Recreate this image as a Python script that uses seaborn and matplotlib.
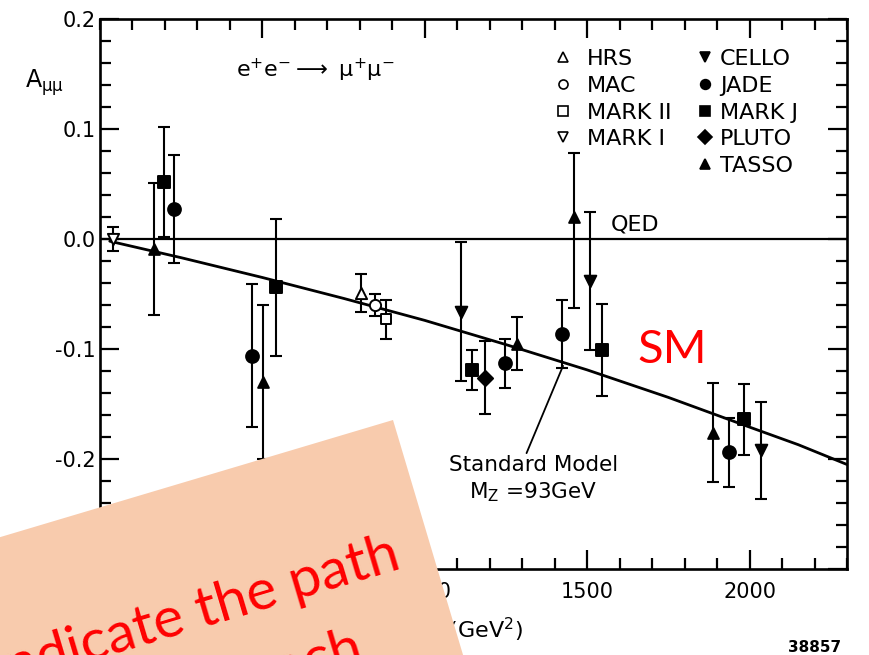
import numpy as np
import pandas as pd
import matplotlib
matplotlib.use("Agg")
import matplotlib.pyplot as plt
from matplotlib.lines import Line2D
from matplotlib.patches import Polygon
from matplotlib.ticker import MultipleLocator, FuncFormatter
import seaborn as sns

# ---- forward-backward asymmetry of e+e- -> mu+mu- (s in GeV^2) ----
# errors are given as (lower, upper)
hrs_s, hrs_a, hrs_lo, hrs_hi = [804], [-0.049], [0.017], [0.017]
mac_s, mac_a, mac_lo, mac_hi = [847], [-0.060], [0.010], [0.010]
mark2_s, mark2_a, mark2_lo, mark2_hi = [880], [-0.073], [0.018], [0.018]
mark1_s, mark1_a, mark1_lo, mark1_hi = [40], [0.000], [0.011], [0.011]
cello_s = [1112, 1509, 2034]
cello_a = [-0.066, -0.038, -0.192]
cello_lo = [0.063, 0.063, 0.044]
cello_hi = [0.063, 0.063, 0.044]
jade_s = [228, 468, 1246, 1424, 1937]
jade_a = [0.027, -0.106, -0.113, -0.086, -0.194]
jade_lo = [0.049, 0.065, 0.022, 0.031, 0.031]
jade_hi = [0.049, 0.065, 0.022, 0.031, 0.031]
markj_s = [197, 543, 1146, 1545, 1983]
markj_a = [0.052, -0.044, -0.119, -0.101, -0.164]
markj_lo = [0.050, 0.062, 0.018, 0.042, 0.032]
markj_hi = [0.050, 0.062, 0.018, 0.042, 0.032]
pluto_s, pluto_a, pluto_lo, pluto_hi = [1185], [-0.126], [0.033], [0.033]
tasso_s = [165, 502, 1284, 1460, 1887]
tasso_a = [-0.009, -0.130, -0.095, 0.020, -0.176]
tasso_lo = [0.060, 0.070, 0.024, 0.083, 0.045]
tasso_hi = [0.060, 0.070, 0.024, 0.058, 0.045]

# Standard Model expectation, M_Z = 93 GeV
sm_s = [30, 250, 500, 750, 1000, 1250, 1500, 1750, 2000, 2150, 2300]
sm_a = [-0.002, -0.017, -0.035, -0.054, -0.074, -0.096, -0.119, -0.144, -0.171, -0.187, -0.205]

x_ticks = [500, 1000, 1500, 2000]
y_ticks = [-0.3, -0.2, -0.1, 0.0, 0.1, 0.2]

# experiment -> (s, A, err_lo, err_hi, marker, filled, marker area)
experiments = {
    "HRS":     (hrs_s, hrs_a, hrs_lo, hrs_hi, "^", False, 65),
    "MAC":     (mac_s, mac_a, mac_lo, mac_hi, "o", False, 65),
    "MARK II": (mark2_s, mark2_a, mark2_lo, mark2_hi, "s", False, 55),
    "MARK I":  (mark1_s, mark1_a, mark1_lo, mark1_hi, "v", False, 65),
    "CELLO":   (cello_s, cello_a, cello_lo, cello_hi, "v", True, 70),
    "JADE":    (jade_s, jade_a, jade_lo, jade_hi, "o", True, 85),
    "MARK J":  (markj_s, markj_a, markj_lo, markj_hi, "s", True, 65),
    "PLUTO":   (pluto_s, pluto_a, pluto_lo, pluto_hi, "D", True, 60),
    "TASSO":   (tasso_s, tasso_a, tasso_lo, tasso_hi, "^", True, 60),
}

rows = []
for name, (s, a, lo, hi, *_rest) in experiments.items():
    for si, ai, l, h in zip(s, a, lo, hi):
        rows.append({"experiment": name, "s": si, "A": ai, "lo": l, "hi": h})
df = pd.DataFrame(rows)

sns.set_theme(style="ticks")
plt.rcParams["font.family"] = ["DejaVu Sans"]
plt.rcParams["axes.unicode_minus"] = False
plt.rcParams["mathtext.default"] = "regular"
for key in ["text.color", "axes.labelcolor", "xtick.color", "ytick.color"]:
    plt.rcParams[key] = "black"

W, H = 869, 655
fig = plt.figure(figsize=(W / 100, H / 100), dpi=100)
fig.patch.set_facecolor("white")


def fpos(x, y):
    return (x / W, 1 - y / H)


ax = fig.add_axes([100 / W, 1 - 569 / H, 747 / W, 550 / H])
ax.set_facecolor("white")
for sp in ax.spines.values():
    sp.set_linewidth(1.9)
    sp.set_color("black")

# QED and Standard Model expectations
ax.axhline(0.0, color="black", lw=1.6, zorder=2)
sns.lineplot(x=sm_s, y=sm_a, color="black", lw=2.0, ax=ax, zorder=2)

for name, (s, a, lo, hi, marker, filled, size) in experiments.items():
    sub = df[df["experiment"] == name]
    ax.errorbar(sub["s"], sub["A"], yerr=[sub["lo"], sub["hi"]], fmt="none",
                ecolor="black", elinewidth=1.5, capsize=4.5, capthick=1.5, zorder=3)
    sns.scatterplot(data=sub, x="s", y="A", marker=marker, s=size,
                    color="black" if filled else "white", edgecolor="black",
                    linewidth=1.4, ax=ax, zorder=4, legend=False)

ax.set_xlim(0, 2300)
ax.set_ylim(-0.3, 0.2)
ax.set_xticks(x_ticks)
ax.set_yticks(y_ticks)
ax.xaxis.set_minor_locator(MultipleLocator(100))
ax.yaxis.set_minor_locator(MultipleLocator(0.02))
ax.yaxis.set_major_formatter(FuncFormatter(lambda v, p: f"{v:.1f}" if abs(v) > 1e-9 else "0.0"))
ax.tick_params(which="both", direction="in", top=True, right=True, width=1.6,
               color="black", labelcolor="black")
ax.tick_params(which="major", length=14)
ax.tick_params(which="minor", length=8)
ax.tick_params(axis="x", which="major", labelsize=15, pad=9)
ax.tick_params(axis="y", which="major", labelsize=15, pad=3)
ax.grid(False)

ax.set_xlabel("s  (GeV$^2$)", fontsize=16)
ax.xaxis.set_label_coords(0.5, -0.085)
ax.set_ylabel("A$_{\\mu\\mu}$", fontsize=17, rotation=0, ha="center", va="center")
ax.yaxis.set_label_coords(-0.074, 0.884)

ax.text(0.288, 0.907, "e$^{+}$e$^{-}$$\\longrightarrow$ $\\mu^{+}\\mu^{-}$",
        transform=ax.transAxes, fontsize=16, ha="center", va="center")
ax.text(0.716, 0.627, "QED", transform=ax.transAxes, fontsize=16,
        ha="center", va="center")

# Standard Model label with pointer to the curve
ax.text(1335, -0.196, "Standard Model\nM$_{Z}$ =93GeV", fontsize=15.5,
        ha="center", va="top", linespacing=1.3)
ax.annotate("", xy=(1429, -0.113), xytext=(1310, -0.197),
            arrowprops=dict(arrowstyle="-", color="black", lw=1.3))


# legend: open markers in the first column, filled in the second
def handle(marker, filled, ms=6.5):
    return Line2D([], [], marker=marker, linestyle="none", markersize=ms,
                  markerfacecolor="black" if filled else "white",
                  markeredgecolor="black", markeredgewidth=1.2)


names1 = ["HRS", "MAC", "MARK II", "MARK I"]
names2 = ["CELLO", "JADE", "MARK J", "PLUTO", "TASSO"]
leg_kw = dict(loc="upper left", frameon=False, fontsize=16, handlelength=1.0,
              labelspacing=0.3, borderpad=0, borderaxespad=0)
leg1 = ax.legend([handle(experiments[n][4], experiments[n][5]) for n in names1], names1,
                 bbox_to_anchor=(0.605, 0.945), handletextpad=0.58, **leg_kw)
ax.add_artist(leg1)
ax.legend([handle(experiments[n][4], experiments[n][5], 7) for n in names2], names2,
          bbox_to_anchor=(0.795, 0.945), handletextpad=0.18, **leg_kw)

fig.text(*fpos(815, 648), "38857", fontsize=11, fontweight="bold",
         ha="center", va="center")

# slide annotations drawn over the figure
ang = np.deg2rad(16.6)
tr = np.array([393.0, 420.0])
along = np.array([-np.cos(ang), np.sin(ang)])
down = np.array([np.sin(ang), np.cos(ang)])
corners = [tr, tr + along * 700, tr + along * 700 + down * 600, tr + down * 600]
poly = Polygon([fpos(*c) for c in corners], closed=True, transform=fig.transFigure,
               facecolor="#F8CBAD", edgecolor="none", zorder=10)
fig.add_artist(poly)

fig.text(*fpos(403, 568), "Indicate the path", family=["Lato", "DejaVu Sans"],
         fontsize=41, color="#FF0000", rotation=16.6, rotation_mode="anchor",
         ha="right", va="baseline", zorder=11)
fig.text(*fpos(366, 662), "for each", family=["Lato", "DejaVu Sans"],
         fontsize=41, color="#FF0000", rotation=16.6, rotation_mode="anchor",
         ha="right", va="baseline", zorder=11)
fig.text(*fpos(672, 350), "SM", family=["Lato", "DejaVu Sans"], fontsize=34,
         color="#FF0000", ha="center", va="center", zorder=11)

fig.savefig("out.png", dpi=100, facecolor="white")
